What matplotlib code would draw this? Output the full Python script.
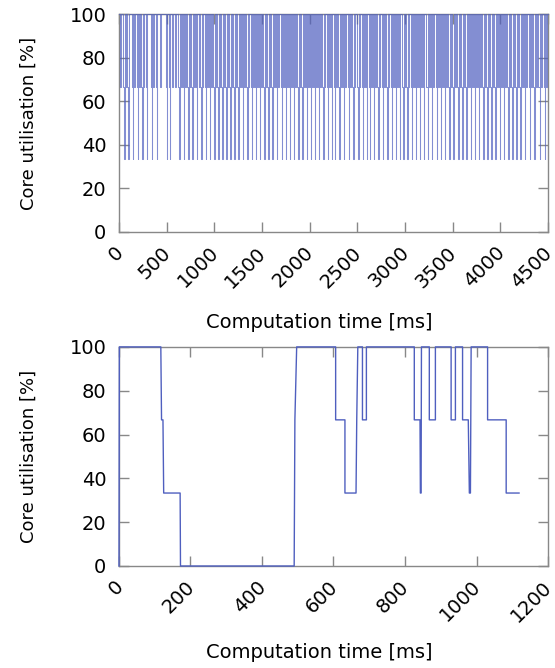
import matplotlib
matplotlib.use("Agg")
import matplotlib.pyplot as plt
import matplotlib.transforms as mtransforms

# --- data ---
# top run: start of each pulse that drops down to 33.3 % (ms)
long_pulses = [46, 88, 133, 186, 235, 284, 332, 385, 490, 525,
               623, 668, 717, 759, 808, 853, 898, 944, 990, 1032,
               1073, 1115, 1157, 1199, 1241, 1290, 1335, 1381, 1422, 1469,
               1514, 1556, 1598, 1643, 1695, 1741, 1783, 1825, 1870, 1912,
               1957, 2003, 2045, 2087, 2132, 2177, 2219, 2255, 2300, 2349,
               2397, 2446, 2499, 2544, 2586, 2622, 2664, 2709, 2754, 2803,
               2848, 2894, 2936, 2971, 3013, 3058, 3104, 3146, 3188, 3225,
               3272, 3320, 3362, 3408, 3453, 3495, 3547, 3592, 3634, 3680,
               3722, 3764, 3809, 3851, 3896, 3938, 3984, 4026, 4071, 4113,
               4158, 4200, 4246, 4298, 4347, 4400, 4456]
# top run: short dips that only reach 66.7 % (ms)
short_dips = [12, 70, 158, 211, 256, 361, 430, 555, 590,
              649, 695, 742, 786, 834, 878, 925, 969, 1015, 1058,
              1099, 1141, 1183, 1224, 1267, 1316, 1360, 1406, 1448, 1494,
              1540, 1581, 1624, 1670, 1720, 1766, 1808, 1851, 1895, 1938,
              1983, 2028, 2070, 2113, 2158, 2202, 2281, 2326, 2375, 2423,
              2472, 2524, 2570, 2647, 2690, 2734, 2781, 2828, 2874, 2920,
              2997, 3039, 3083, 3129, 3172, 3251, 3298, 3345, 3388, 3433,
              3479, 3522, 3572, 3618, 3660, 3705, 3748, 3790, 3835, 3877,
              3921, 3964, 4010, 4051, 4097, 4139, 4183, 4226, 4273, 4323,
              4373, 4426, 4482]
hold_two = 11     # ms spent at 66.7 % before dropping
hold_one = 15     # ms until back at 100 %
dip_len = 8       # ms of a short dip
long_end = 4500

# bottom run (ms, %)
short_t = [0, 1, 117, 119, 123, 125, 171, 172, 490, 492, 497,
           606, 606, 632, 632, 663, 665, 668, 681, 681, 692, 692,
           826, 826, 842, 843, 845, 846, 868, 868, 885, 885,
           929, 929, 941, 941, 961, 961, 977, 980, 983, 985,
           1031, 1031, 1083, 1083, 1119]
short_u = [0, 100, 100, 66.7, 66.7, 33.3, 33.3, 0, 0, 66.7, 100,
           100, 66.7, 66.7, 33.3, 33.3, 66.7, 100, 100, 66.7, 66.7, 100,
           100, 66.7, 66.7, 33.3, 33.3, 100, 100, 66.7, 66.7, 100,
           100, 66.7, 66.7, 100, 100, 66.7, 66.7, 33.3, 33.3, 100,
           100, 66.7, 66.7, 33.3, 33.3]

yticks = [0, 20, 40, 60, 80, 100]
top_xticks = list(range(0, 4501, 500))
bot_xticks = list(range(0, 1201, 200))

# build the step trace of the long run
events = [(s, "deep") for s in long_pulses] + [(s, "dip") for s in short_dips]
events.sort()
long_t = [0]
long_u = [100]
for s, kind in events:
    if kind == "deep":
        long_t += [s, s, s + hold_two, s + hold_two, s + hold_one, s + hold_one]
        long_u += [100, 66.7, 66.7, 33.3, 33.3, 100]
    else:
        long_t += [s, s, s + dip_len, s + dip_len]
        long_u += [100, 66.7, 66.7, 100]
long_t.append(long_end)
long_u.append(100)

line_col = "#4f5fbf"
frame_col = "#888888"
plt.rcParams["font.family"] = "DejaVu Sans"
plt.rcParams["font.size"] = 14

fig = plt.figure(figsize=(5.55, 6.68), dpi=100)
ax1 = fig.add_axes([0.2144, 0.6527, 0.773, 0.3263])
ax2 = fig.add_axes([0.2144, 0.1527, 0.773, 0.328])


def style(ax, xticks, xmax, xlab_y):
    ax.set_xlim(0, xmax)
    ax.set_ylim(0, 100)
    ax.set_xticks(xticks)
    ax.set_yticks(yticks)
    ax.tick_params(direction="in", length=7, width=1, color=frame_col,
                   top=True, right=True, labelsize=14)
    ax.tick_params(axis="y", pad=9)
    ax.tick_params(axis="x", pad=6)
    for sp in ax.spines.values():
        sp.set_color(frame_col)
        sp.set_linewidth(1)
    shift = mtransforms.ScaledTranslation(-4 / 72, -2 / 72, fig.dpi_scale_trans)
    for lab in ax.get_xticklabels():
        lab.set_rotation(45)
        lab.set_ha("right")
        lab.set_rotation_mode("anchor")
        lab.set_transform(lab.get_transform() + shift)
    ax.set_xlabel("Computation time [ms]")
    ax.xaxis.set_label_coords(0.466, xlab_y)
    ax.set_ylabel("Core utilisation [%]", fontsize=13)
    ax.yaxis.set_label_coords(-0.19, 0.5)


ax1.plot(long_t, long_u, color=line_col, lw=0.75, alpha=0.7, zorder=3,
         clip_on=False)
style(ax1, top_xticks, 4500, -0.37)

ax2.plot(short_t, short_u, color=line_col, lw=1.0, zorder=3, clip_on=False)
style(ax2, bot_xticks, 1200, -0.352)

fig.savefig("out.png", dpi=100)
